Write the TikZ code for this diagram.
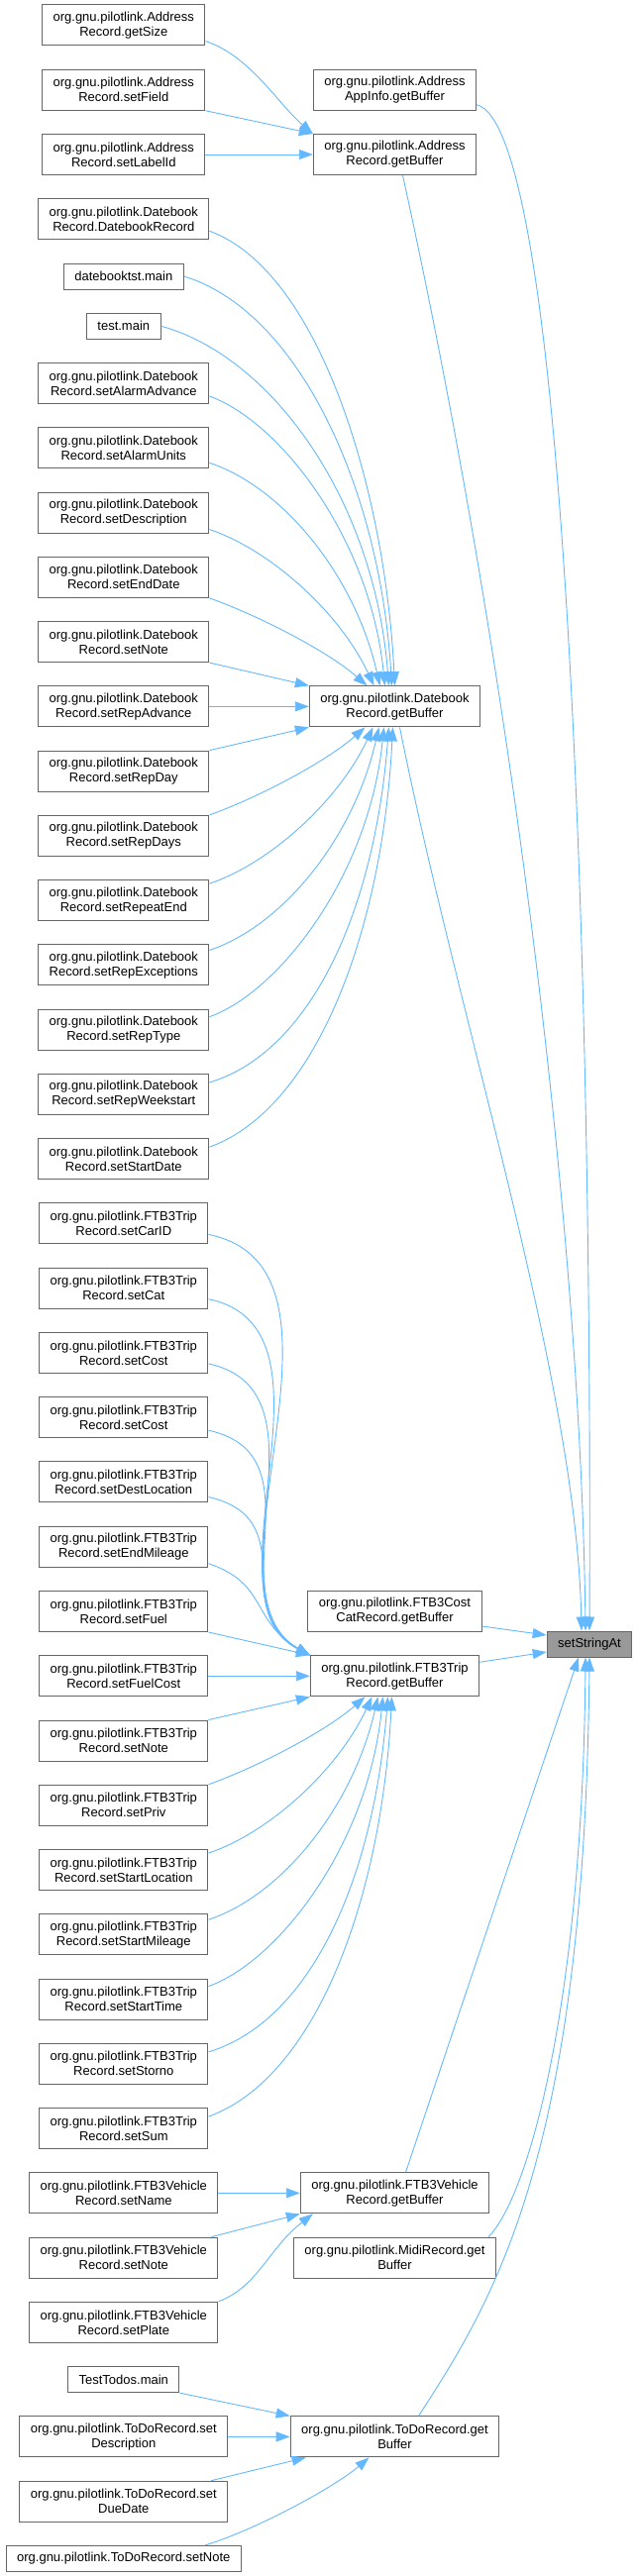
\documentclass[tikz,border=0pt]{standalone}
\usepackage{fontspec}
\setmainfont{Liberation Sans}
\usepackage{xcolor}
\usepackage{tikz}
\usetikzlibrary{arrows.meta,positioning}

\definecolor{callblue}{HTML}{63B8FF}
\definecolor{boxgray}{HTML}{666666}
\definecolor{curgray}{HTML}{999999}
\newcommand{\graphfont}{\fontsize{13pt}{15pt}\selectfont}

\tikzset{
  fn/.style={draw=boxgray, line width=1pt, fill=white, font=\graphfont, align=center,
    inner xsep=11pt, inner ysep=2pt, minimum height=41pt},
  fnone/.style={fn, minimum height=26pt},
  fncur/.style={fnone, fill=curgray},
  call/.style={draw=callblue, line width=0.9pt, -{Triangle[length=14pt,width=10pt]}}
}

\begin{document}
\begin{tikzpicture}[x=1pt,y=1pt]
    \useasboundingbox (0,0) rectangle (644,-2601);

    % Address callers
    \node[fn] (adGetSize) at (124.8,-25.5) {org.gnu.pilotlink.Address\\Record.getSize};
    \node[fn] (adSetField) at (124.8,-90.76) {org.gnu.pilotlink.Address\\Record.setField};
    \node[fn] (adSetLabelId) at (124.8,-156.02) {org.gnu.pilotlink.Address\\Record.setLabelId};

    % Datebook callers
    \node[fn] (dbDatebookRecord) at (124.8,-221.28) {org.gnu.pilotlink.Datebook\\Record.DatebookRecord};
    \node[fnone] (dbtstMain) at (124.8,-279.04) {datebooktst.main};
    \node[fnone] (testMain) at (124.8,-329.30) {test.main};
    \node[fn] (dbSetAlarmAdvance) at (124.8,-387.06) {org.gnu.pilotlink.Datebook\\Record.setAlarmAdvance};
    \node[fn] (dbSetAlarmUnits) at (124.8,-452.32) {org.gnu.pilotlink.Datebook\\Record.setAlarmUnits};
    \node[fn] (dbSetDescription) at (124.8,-517.58) {org.gnu.pilotlink.Datebook\\Record.setDescription};
    \node[fn] (dbSetEndDate) at (124.8,-582.84) {org.gnu.pilotlink.Datebook\\Record.setEndDate};
    \node[fn] (dbSetNote) at (124.8,-648.10) {org.gnu.pilotlink.Datebook\\Record.setNote};
    \node[fn] (dbSetRepAdvance) at (124.8,-713.36) {org.gnu.pilotlink.Datebook\\Record.setRepAdvance};
    \node[fn] (dbSetRepDay) at (124.8,-778.62) {org.gnu.pilotlink.Datebook\\Record.setRepDay};
    \node[fn] (dbSetRepDays) at (124.8,-843.88) {org.gnu.pilotlink.Datebook\\Record.setRepDays};
    \node[fn] (dbSetRepeatEnd) at (124.8,-909.14) {org.gnu.pilotlink.Datebook\\Record.setRepeatEnd};
    \node[fn] (dbSetRepExceptions) at (124.8,-974.40) {org.gnu.pilotlink.Datebook\\Record.setRepExceptions};
    \node[fn] (dbSetRepType) at (124.8,-1039.66) {org.gnu.pilotlink.Datebook\\Record.setRepType};
    \node[fn] (dbSetRepWeekstart) at (124.8,-1104.92) {org.gnu.pilotlink.Datebook\\Record.setRepWeekstart};
    \node[fn] (dbSetStartDate) at (124.8,-1170.18) {org.gnu.pilotlink.Datebook\\Record.setStartDate};

    % FTB3Trip callers
    \node[fn] (trSetCarID) at (124.8,-1235.44) {org.gnu.pilotlink.FTB3Trip\\Record.setCarID};
    \node[fn] (trSetCat) at (124.8,-1300.70) {org.gnu.pilotlink.FTB3Trip\\Record.setCat};
    \node[fn] (trSetCostA) at (124.8,-1365.96) {org.gnu.pilotlink.FTB3Trip\\Record.setCost};
    \node[fn] (trSetCostB) at (124.8,-1431.22) {org.gnu.pilotlink.FTB3Trip\\Record.setCost};
    \node[fn] (trSetDestLocation) at (124.8,-1496.48) {org.gnu.pilotlink.FTB3Trip\\Record.setDestLocation};
    \node[fn] (trSetEndMileage) at (124.8,-1561.74) {org.gnu.pilotlink.FTB3Trip\\Record.setEndMileage};
    \node[fn] (trSetFuel) at (124.8,-1627.00) {org.gnu.pilotlink.FTB3Trip\\Record.setFuel};
    \node[fn] (trSetFuelCost) at (124.8,-1692.26) {org.gnu.pilotlink.FTB3Trip\\Record.setFuelCost};
    \node[fn] (trSetNote) at (124.8,-1757.52) {org.gnu.pilotlink.FTB3Trip\\Record.setNote};
    \node[fn] (trSetPriv) at (124.8,-1822.78) {org.gnu.pilotlink.FTB3Trip\\Record.setPriv};
    \node[fn] (trSetStartLocation) at (124.8,-1888.04) {org.gnu.pilotlink.FTB3Trip\\Record.setStartLocation};
    \node[fn] (trSetStartMileage) at (124.8,-1953.30) {org.gnu.pilotlink.FTB3Trip\\Record.setStartMileage};
    \node[fn] (trSetStartTime) at (124.8,-2018.56) {org.gnu.pilotlink.FTB3Trip\\Record.setStartTime};
    \node[fn] (trSetStorno) at (124.8,-2083.82) {org.gnu.pilotlink.FTB3Trip\\Record.setStorno};
    \node[fn] (trSetSum) at (124.8,-2149.08) {org.gnu.pilotlink.FTB3Trip\\Record.setSum};

    % FTB3Vehicle and ToDo callers
    \node[fn] (veSetName) at (124.8,-2214.34) {org.gnu.pilotlink.FTB3Vehicle\\Record.setName};
    \node[fn] (veSetNote) at (124.8,-2279.60) {org.gnu.pilotlink.FTB3Vehicle\\Record.setNote};
    \node[fn] (veSetPlate) at (124.8,-2344.86) {org.gnu.pilotlink.FTB3Vehicle\\Record.setPlate};
    \node[fnone] (tdMain) at (124.8,-2402.62) {TestTodos.main};
    \node[fn] (tdSetDescription) at (124.8,-2460.38) {org.gnu.pilotlink.ToDoRecord.set\\Description};
    \node[fn] (tdSetDueDate) at (124.8,-2525.64) {org.gnu.pilotlink.ToDoRecord.set\\DueDate};
    \node[fnone] (tdSetNote) at (124.8,-2583.40) {org.gnu.pilotlink.ToDoRecord.setNote};

    % getBuffer column
    \node[fn] (adAppInfo) at (398.5,-90.76) {org.gnu.pilotlink.Address\\AppInfo.getBuffer};
    \node[fn] (adGet) at (398.5,-156.02) {org.gnu.pilotlink.Address\\Record.getBuffer};
    \node[fn] (dbGet) at (398.5,-713.36) {org.gnu.pilotlink.Datebook\\Record.getBuffer};
    \node[fn] (ccGet) at (398.5,-1627.00) {org.gnu.pilotlink.FTB3Cost\\CatRecord.getBuffer};
    \node[fn] (trGet) at (398.5,-1692.26) {org.gnu.pilotlink.FTB3Trip\\Record.getBuffer};
    \node[fn] (veGet) at (398.5,-2214.34) {org.gnu.pilotlink.FTB3Vehicle\\Record.getBuffer};
    \node[fn] (midiGet) at (398.5,-2279.60) {org.gnu.pilotlink.MidiRecord.get\\Buffer};
    \node[fn] (tdGet) at (398.5,-2460.38) {org.gnu.pilotlink.ToDoRecord.get\\Buffer};

    % the called function
    \node[fncur] (sStr) at (595,-1660) {setStringAt};

    % Address calls
    \draw[call] ([yshift=-16pt]adGetSize.east) .. controls +(45,-15) and +(-35,30) .. (adGet.north west);
    \draw[call] (adSetField.south east) -- (adGet.north west);
    \draw[call] (adSetLabelId) -- (adGet);
    \draw[call] ([yshift=-15pt]adAppInfo.east) .. controls +(85,-20) and +(3,750) .. (sStr.north);
    \draw[call] ([xshift=8pt]adGet.south) .. controls +(110,-500) and +(-5,400) .. ([xshift=-4pt]sStr.north);

    % Datebook calls
    \draw[call] ([yshift=-12pt]dbDatebookRecord.east) .. controls +(110,-40) and +(-10,200) .. (dbGet.north);
    \draw[call] (dbtstMain.east) .. controls +(115,-35) and +(-12,200) .. ([xshift=-3pt]dbGet.north);
    \draw[call] (testMain.east) .. controls +(110,-30) and +(-15,190) .. ([xshift=-6pt]dbGet.north);
    \draw[call] ([yshift=-13pt]dbSetAlarmAdvance.east) .. controls +(70,-25) and +(-15,150) .. ([xshift=-10pt]dbGet.north);
    \draw[call] ([yshift=-15pt]dbSetAlarmUnits.east) .. controls +(75,-25) and +(-25,110) .. ([xshift=-15pt]dbGet.north);
    \draw[call] ([yshift=-17pt]dbSetDescription.east) .. controls +(60,-20) and +(-35,75) .. ([xshift=-21pt]dbGet.north);
    \draw[call] (dbSetEndDate.south east) .. controls +(50,-18) and +(-40,35) .. ([xshift=-28pt]dbGet.north);
    \draw[call] (dbSetNote.south east) -- (dbGet.north west);
    \draw[call] (dbSetRepAdvance) -- (dbGet);
    \draw[call] (dbSetRepDay.north east) -- (dbGet.south west);
    \draw[call] (dbSetRepDays.north east) .. controls +(50,18) and +(-40,-35) .. ([xshift=-30pt]dbGet.south);
    \draw[call] ([yshift=17pt]dbSetRepeatEnd.east) .. controls +(60,20) and +(-35,-75) .. ([xshift=-22pt]dbGet.south);
    \draw[call] ([yshift=15pt]dbSetRepExceptions.east) .. controls +(75,25) and +(-25,-110) .. ([xshift=-16pt]dbGet.south);
    \draw[call] ([yshift=13pt]dbSetRepType.east) .. controls +(70,25) and +(-15,-150) .. ([xshift=-11pt]dbGet.south);
    \draw[call] ([yshift=12pt]dbSetRepWeekstart.east) .. controls +(100,30) and +(-15,-190) .. ([xshift=-6pt]dbGet.south);
    \draw[call] ([yshift=12pt]dbSetStartDate.east) .. controls +(110,40) and +(-10,-200) .. ([xshift=-2pt]dbGet.south);
    \draw[call] ([xshift=5pt]dbGet.south) .. controls +(60,-300) and +(-5,250) .. ([xshift=-8pt]sStr.north);

    % FTB3Trip calls
    \draw[call] ([yshift=10pt]trSetCarID.south east) .. controls +(168,-34) and +(-118,67) .. (trGet.north west);
    \draw[call] ([yshift=10pt]trSetCat.south east) .. controls +(145,-30) and +(-112,60) .. (trGet.north west);
    \draw[call] ([yshift=10pt]trSetCostA.south east) .. controls +(130,-28) and +(-105,55) .. (trGet.north west);
    \draw[call] ([yshift=8pt]trSetCostB.south east) .. controls +(115,-25) and +(-95,50) .. (trGet.north west);
    \draw[call] ([yshift=6pt]trSetDestLocation.south east) .. controls +(95,-22) and +(-80,45) .. (trGet.north west);
    \draw[call] ([yshift=4pt]trSetEndMileage.south east) .. controls +(60,-20) and +(-60,35) .. (trGet.north west);
    \draw[call] (trSetFuel.south east) -- (trGet.north west);
    \draw[call] (trSetFuelCost) -- (trGet);
    \draw[call] (trSetNote.north east) -- (trGet.south west);
    \draw[call] (trSetPriv.north east) .. controls +(50,18) and +(-40,-35) .. ([xshift=-30pt]trGet.south);
    \draw[call] ([yshift=17pt]trSetStartLocation.east) .. controls +(60,20) and +(-35,-75) .. ([xshift=-23pt]trGet.south);
    \draw[call] ([yshift=15pt]trSetStartMileage.east) .. controls +(75,25) and +(-25,-110) .. ([xshift=-17pt]trGet.south);
    \draw[call] ([yshift=13pt]trSetStartTime.east) .. controls +(70,25) and +(-15,-150) .. ([xshift=-12pt]trGet.south);
    \draw[call] ([yshift=12pt]trSetStorno.east) .. controls +(100,30) and +(-15,-190) .. ([xshift=-7pt]trGet.south);
    \draw[call] ([yshift=12pt]trSetSum.east) .. controls +(110,40) and +(-10,-200) .. ([xshift=-3pt]trGet.south);
    \draw[call] ([yshift=-15pt]ccGet.east) -- ([yshift=9pt]sStr.west);
    \draw[call] ([yshift=14pt]trGet.east) -- ([yshift=-8pt]sStr.west);

    % FTB3Vehicle and Midi calls
    \draw[call] (veSetName) -- (veGet);
    \draw[call] ([xshift=-7pt]veSetNote.north east) -- (veGet.south west);
    \draw[call] (veSetPlate.north east) .. controls +(40,15) and +(-45,-35) .. ([xshift=13pt]veGet.south west);
    \draw[call] ([xshift=11pt]veGet.north) -- ([xshift=-11pt]sStr.south);
    \draw[call] ([xshift=-8pt]midiGet.north east) .. controls +(40,40) and +(-3,-350) .. ([xshift=-4pt]sStr.south);

    % ToDo calls
    \draw[call] (tdMain.south east) -- (tdGet.north west);
    \draw[call] (tdSetDescription) -- (tdGet);
    \draw[call] ([xshift=-17pt]tdSetDueDate.north east) -- ([xshift=16pt]tdGet.south west);
    \draw[call] ([xshift=-37pt]tdSetNote.north east) .. controls +(50,15) and +(-35,-30) .. ([xshift=-26pt]tdGet.south);
    \draw[call] ([xshift=24pt]tdGet.north) .. controls +(78,120) and +(-5,-500) .. (sStr.south);
\end{tikzpicture}
\end{document}
